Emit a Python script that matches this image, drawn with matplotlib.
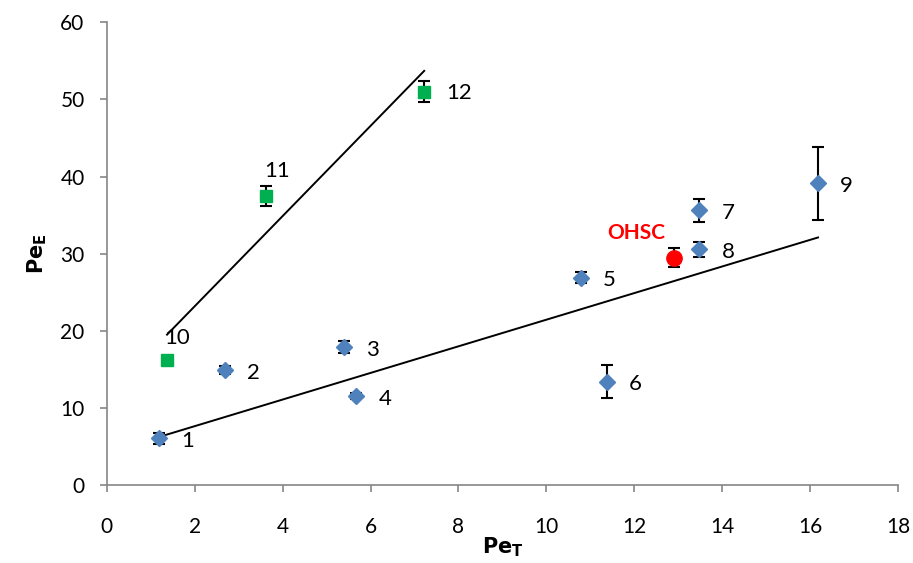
import matplotlib
matplotlib.use("Agg")
import matplotlib.pyplot as plt

plt.rcParams['font.family'] = ['Lato', 'DejaVu Sans']

# Blue series (diamonds)
blue_labels = ["1", "2", "3", "4", "5", "6", "7", "8", "9"]
blue_x = [1.19, 2.69, 5.39, 5.68, 10.78, 11.37, 13.48, 13.48, 16.18]
blue_y = [6.06, 14.9, 17.9, 11.5, 26.9, 13.4, 35.6, 30.6, 39.1]
blue_err = [0.7, 0.5, 0.8, 0.4, 0.7, 2.1, 1.45, 0.97, 4.7]

# Green series (squares)
green_labels = ["10", "11", "12"]
green_x = [1.36, 3.61, 7.22]
green_y = [16.2, 37.5, 51.0]
green_err = [0.0, 1.3, 1.35]

# OHSC point
ohsc_x = [12.91]
ohsc_y = [29.5]
ohsc_err = [1.2]

# Trend lines (endpoints)
blue_line_x = [1.21, 16.18]
blue_line_y = [6.27, 32.1]
green_line_x = [1.37, 7.22]
green_line_y = [19.5, 53.7]

xticks = [0, 2, 4, 6, 8, 10, 12, 14, 16, 18]
yticks = [0, 10, 20, 30, 40, 50, 60]

fig = plt.figure(figsize=(9.13, 5.63), dpi=100)
ax = fig.add_axes([0.117, 0.1385, 0.8666, 0.8219])

ax.plot(blue_line_x, blue_line_y, color='black', lw=1.4, zorder=2)
ax.plot(green_line_x, green_line_y, color='black', lw=1.4, zorder=2)

ax.errorbar(blue_x, blue_y, yerr=blue_err, fmt='D', color='#4F81BD', ms=8,
            ecolor='black', elinewidth=1.5, capsize=4.5, capthick=1.5, zorder=3)
ax.errorbar(green_x, green_y, yerr=green_err, fmt='s', color='#00B050', ms=9,
            ecolor='black', elinewidth=1.5, capsize=4.5, capthick=1.5, zorder=3)
ax.errorbar(ohsc_x, ohsc_y, yerr=ohsc_err, fmt='o', color='#FF0000', ms=11,
            ecolor='black', elinewidth=1.5, capsize=4.5, capthick=1.5, zorder=3)

for lbl, x, y in zip(blue_labels, blue_x, blue_y):
    ax.annotate(lbl, (x, y), xytext=(16, -2), textcoords='offset points',
                fontsize=16, va='center', ha='left')
# Green labels: 10 and 11 above, 12 to the right
ax.annotate(green_labels[0], (green_x[0], green_y[0]), xytext=(-2, 16), textcoords='offset points',
            fontsize=16, va='center', ha='left')
ax.annotate(green_labels[1], (green_x[1], green_y[1]), xytext=(-1, 18), textcoords='offset points',
            fontsize=16, va='center', ha='left')
ax.annotate(green_labels[2], (green_x[2], green_y[2]), xytext=(16, -1), textcoords='offset points',
            fontsize=16, va='center', ha='left')
ax.annotate("OHSC", (ohsc_x[0], ohsc_y[0]), xytext=(-48, 18), textcoords='offset points',
            fontsize=15, va='center', ha='left', color='#FF0000', fontweight='bold')

ax.set_xlim(0, 18)
ax.set_ylim(0, 60)
ax.set_xticks(xticks)
ax.set_yticks(yticks)
ax.tick_params(axis='both', direction='out', length=5, width=1.2, color='#868686',
               labelsize=15)
ax.tick_params(axis='x', pad=18)
ax.tick_params(axis='y', pad=11)
for s in ['top', 'right']:
    ax.spines[s].set_visible(False)
for s in ['left', 'bottom']:
    ax.spines[s].set_color('#868686')
    ax.spines[s].set_linewidth(1.2)

ax.set_xlabel(r'$\mathbf{Pe_T}$', fontsize=15, labelpad=-1)
ax.set_ylabel(r'$\mathbf{Pe_E}$', fontsize=15, labelpad=8)

fig.savefig('out.png', dpi=100)
